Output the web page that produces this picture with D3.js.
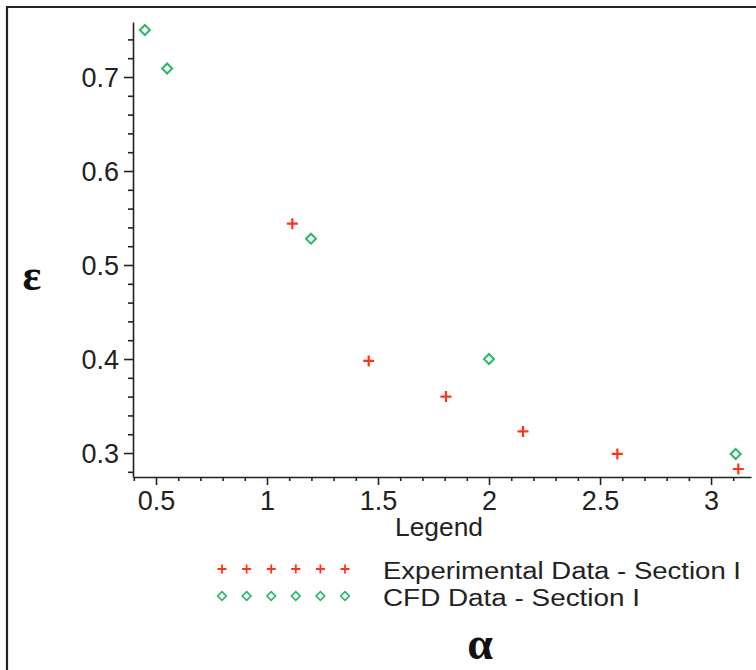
<!DOCTYPE html>
<html>
<head>
<meta charset="utf-8">
<script src="https://cdn.jsdelivr.net/npm/d3@7"></script>
<style>
  html, body { margin: 0; padding: 0; background: #ffffff; }
  svg { display: block; }
</style>
</head>
<body>
<svg id="chart" width="756" height="670"></svg>
<script>
// ---- data ----
const expAlpha = [1.114, 1.458, 1.806, 2.153, 2.578, 3.123];
const expEps   = [0.544, 0.398, 0.360, 0.323, 0.299, 0.283];
const cfdAlpha = [0.45, 0.55, 1.198, 2.0, 3.111];
const cfdEps   = [0.750, 0.709, 0.528, 0.400, 0.299];
const xMajorTicks = [0.5, 1, 1.5, 2, 2.5, 3];
const xTickLabels = ["0.5", "1", "1.5", "2", "2.5", "3"];
const yMajorTicks = [0.3, 0.4, 0.5, 0.6, 0.7];
const yTickLabels = ["0.3", "0.4", "0.5", "0.6", "0.7"];
const seriesNames = ["Experimental Data - Section I", "CFD Data - Section I"];
const legendTitle = "Legend";
const xLabel = "α";
const yLabel = "ε";

const red = "#ff3416";
const green = "#2db56c";
const ink = "#222222";
const tickFont = "'Liberation Sans', Arial, sans-serif";

const svg = d3.select("#chart");

// frame (top and left edges)
svg.append("line").attr("x1", 7).attr("y1", 7).attr("x2", 756).attr("y2", 7)
  .attr("stroke", ink).attr("stroke-width", 2.2);
svg.append("line").attr("x1", 7).attr("y1", 6).attr("x2", 7).attr("y2", 670)
  .attr("stroke", ink).attr("stroke-width", 2.2);

const x = d3.scaleLinear().domain([0.4, 3.18]).range([133.8, 751]);
const y = d3.scaleLinear().domain([0.2745, 0.7585]).range([477, 22]);

const xMinor = d3.range(4, 32).map(d => d / 10).filter(v => !xMajorTicks.some(m => Math.abs(m - v) < 1e-6));
const yMinor = d3.range(14, 38).map(d => d / 50).filter(v => !yMajorTicks.some(m => Math.abs(m - v) < 1e-6));

// x axis
const gx = svg.append("g").attr("transform", `translate(0,${y.range()[0]})`);
gx.call(d3.axisBottom(x).tickValues(xMajorTicks).tickSize(8).tickSizeOuter(0)
  .tickFormat((d, i) => xTickLabels[i]).tickPadding(4));
gx.append("g").call(d3.axisBottom(x).tickValues(xMinor).tickSize(4).tickFormat(""))
  .select(".domain").remove();
gx.selectAll(".domain").attr("stroke", ink).attr("stroke-width", 1.6);
gx.selectAll(".tick line").attr("stroke", ink).attr("stroke-width", 1.6);
gx.selectAll(".tick text").attr("fill", ink).style("font-family", tickFont)
  .style("font-size", "27px").attr("dy", "0.78em");

// y axis
const gy = svg.append("g").attr("transform", `translate(${x.range()[0] - 0.8},0)`);
gy.call(d3.axisLeft(y).tickValues(yMajorTicks).tickSize(9).tickSizeOuter(0)
  .tickFormat((d, i) => yTickLabels[i]).tickPadding(5));
gy.append("g").call(d3.axisLeft(y).tickValues(yMinor).tickSize(5).tickFormat(""))
  .select(".domain").remove();
gy.selectAll(".domain").attr("stroke", ink).attr("stroke-width", 1.6);
gy.selectAll(".tick line").attr("stroke", ink).attr("stroke-width", 1.6);
gy.selectAll(".tick text").attr("fill", ink).style("font-family", tickFont)
  .style("font-size", "27px").attr("dy", "0.36em");

// symbols
function cross(g, cx, cy, s, w) {
  g.append("path").attr("d", `M${cx - s},${cy}H${cx + s}M${cx},${cy - s}V${cy + s}`)
    .attr("stroke", red).attr("stroke-width", w).attr("fill", "none");
}
function diamond(g, cx, cy, s, w) {
  g.append("path").attr("d", `M${cx},${cy - s}L${cx + s},${cy}L${cx},${cy + s}L${cx - s},${cy}Z`)
    .attr("stroke", green).attr("stroke-width", w).attr("fill", "none");
}

const pts = svg.append("g");
cfdAlpha.forEach((a, i) => diamond(pts, x(a), y(cfdEps[i]), 5, 2));
expAlpha.forEach((a, i) => cross(pts, x(a), y(expEps[i]), 5.5, 2.2));

// legend
svg.append("text").attr("x", 439).attr("y", 536).attr("text-anchor", "middle")
  .attr("fill", ink).style("font-family", tickFont).style("font-size", "25px")
  .attr("textLength", 88).attr("lengthAdjust", "spacingAndGlyphs")
  .text(legendTitle);
const legendXs = d3.range(6).map(i => 222 + i * 24.6);
const lg = svg.append("g");
legendXs.forEach(lx => { cross(lg, lx, 569, 4.5, 1.8); diamond(lg, lx, 596, 4.3, 1.7); });
const legendWidths = [358, 257];
seriesNames.forEach((name, i) => {
  svg.append("text").attr("x", 383).attr("y", 578.5 + i * 27)
    .attr("fill", ink).style("font-family", tickFont).style("font-size", "23px")
    .attr("textLength", legendWidths[i]).attr("lengthAdjust", "spacingAndGlyphs")
    .text(name);
});

// axis titles
svg.append("text").attr("x", 32).attr("y", 290).attr("text-anchor", "middle")
  .attr("fill", "#111").style("font-family", "'Liberation Serif', 'Times New Roman', serif")
  .style("font-weight", "bold").style("font-size", "44px").text(yLabel);
svg.append("text").attr("x", 480).attr("y", 659).attr("text-anchor", "middle")
  .attr("fill", "#111").style("font-family", "'Liberation Serif', 'Times New Roman', serif")
  .style("font-weight", "bold").style("font-size", "46px").text(xLabel);
</script>
</body>
</html>
